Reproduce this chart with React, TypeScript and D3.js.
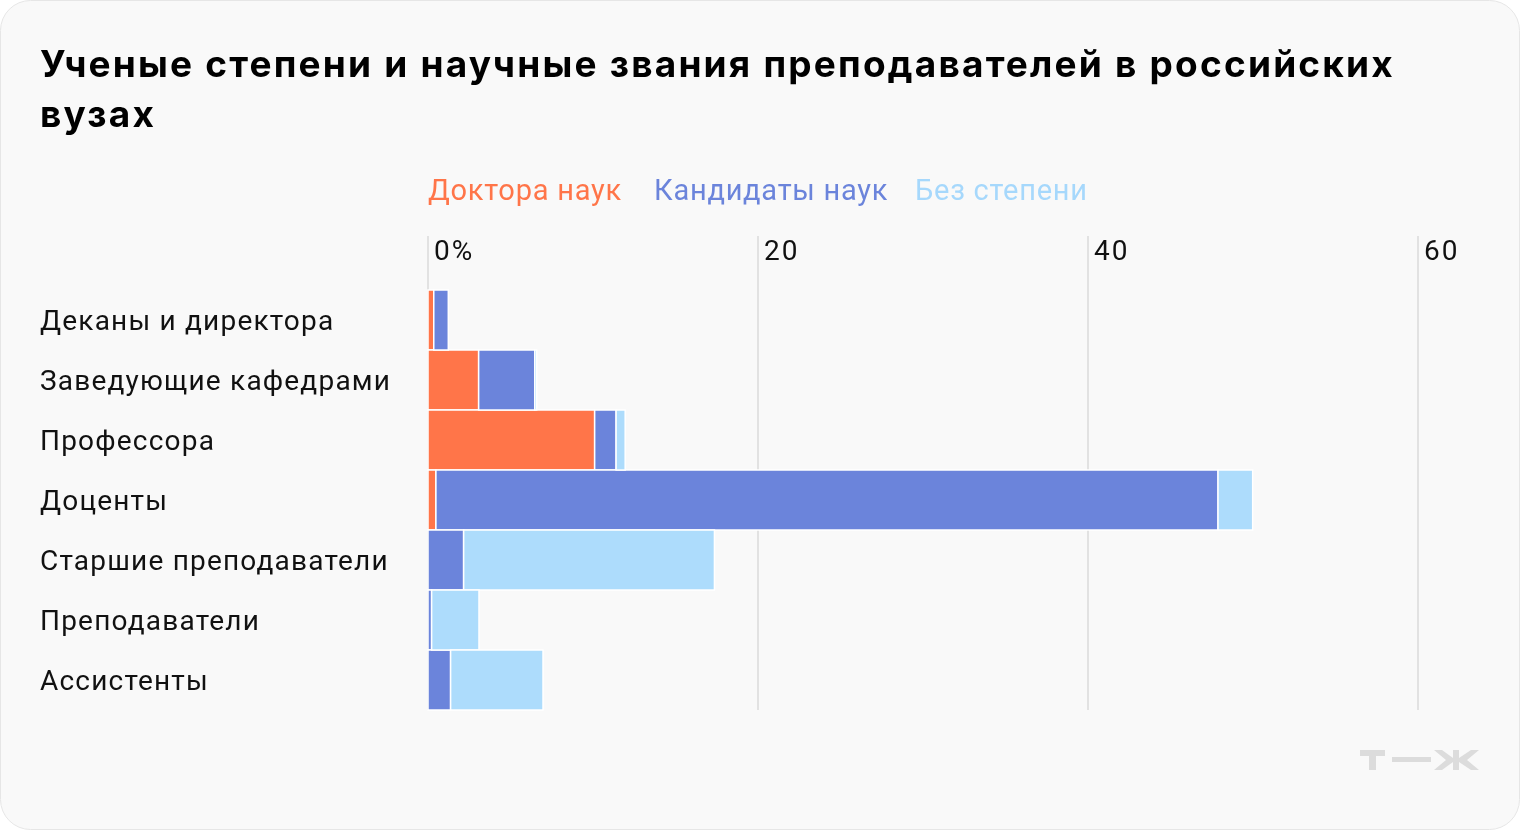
import React from "react";
import * as d3 from "d3";

const categories = [
  "Деканы и директора",
  "Заведующие кафедрами",
  "Профессора",
  "Доценты",
  "Старшие преподаватели",
  "Преподаватели",
  "Ассистенты",
];
const seriesNames = ["Доктора наук", "Кандидаты наук", "Без степени"];
const doctors = [0.35, 3.07, 10.1, 0.48, 0, 0, 0];
const candidates = [0.88, 3.4, 1.3, 47.4, 2.16, 0.22, 1.37];
const noDegree = [0, 0.12, 0.55, 2.1, 15.2, 2.87, 5.6];
const tickValues = [0, 20, 40, 60];
const tickLabels = ["0%", "20", "40", "60"];
const colors = ["#ff7549", "#6b84db", "#addcfc"];
const legendColors = ["#ff7549", "#6b84db", "#a6d8fc"];

const W = 1520;
const H = 830;

export default function App() {
  const x = d3.scaleLinear().domain([0, 60]).range([428, 1418]);
  const y = d3.scaleBand<string>().domain(categories).range([290, 710]).paddingInner(0);

  const rows = categories.map((c, i) => ({
    cat: c,
    doctors: doctors[i],
    candidates: candidates[i],
    noDegree: noDegree[i],
  }));
  const stack = d3.stack<any>().keys(["doctors", "candidates", "noDegree"])(rows);

  const legendX = [428, 654, 915];

  return (
    <div style={{ position: "fixed", left: 0, top: 0, width: W, height: H }}>
      <svg width={W} height={H} style={{ display: "block" }}>
        <rect x={0.5} y={0.5} width={W - 1} height={H - 1} rx={30} fill="#f9f9f9" stroke="#e6e6e6" />
        <text x={40} y={77} fontFamily="Inter, Roboto, sans-serif" fontWeight={700} fontSize={37} letterSpacing={2.2} fill="#000">
          Ученые степени и научные звания преподавателей в российских
        </text>
        <text x={40} y={127} fontFamily="Inter, Roboto, sans-serif" fontWeight={700} fontSize={37} letterSpacing={2.2} fill="#000">
          вузах
        </text>
        {seriesNames.map((s, i) => (
          <text key={s} x={legendX[i]} y={200} fontFamily="Roboto, sans-serif" fontSize={29} letterSpacing={0.75} fill={legendColors[i]}>
            {s}
          </text>
        ))}
        {tickValues.map((t, i) => (
          <g key={t}>
            <line x1={x(t)} x2={x(t)} y1={236} y2={710} stroke="#e2e2e2" strokeWidth={2} />
            <text x={x(t) + 6} y={260} fontFamily="Roboto, sans-serif" fontSize={28} letterSpacing={2} fill="#111">
              {tickLabels[i]}
            </text>
          </g>
        ))}
        {stack.map((layer, si) => (
          <g key={si} fill={colors[si]}>
            {layer.map((d: any, i: number) => {
              const w = x(d[1]) - x(d[0]);
              if (w <= 0) return null;
              return (
                <rect
                  key={i}
                  x={x(d[0])}
                  y={y(categories[i])!}
                  width={w}
                  height={y.bandwidth()}
                  stroke="#fff"
                  strokeWidth={1.5}
                />
              );
            })}
          </g>
        ))}
        {categories.map((c) => (
          <text
            key={c}
            x={40}
            y={y(c)! + y.bandwidth() / 2 + 10}
            fontFamily="Roboto, sans-serif"
            fontSize={28}
            letterSpacing={1.2}
            fill="#111"
          >
            {c}
          </text>
        ))}
        <g fill="#dcdcdc">
          <rect x={1360} y={750} width={25} height={6} />
          <rect x={1369} y={750} width={7} height={20} />
          <rect x={1392} y={757} width={39} height={5} />
          <rect x={1453} y={750} width={6} height={20} />
          <path d="M1434,750 L1442,750 L1453,758 L1453,762 L1442,770 L1434,770 L1446,760 Z" />
          <path d="M1479,750 L1471,750 L1459,758 L1459,762 L1471,770 L1479,770 L1467,760 Z" />
        </g>
      </svg>
    </div>
  );
}
